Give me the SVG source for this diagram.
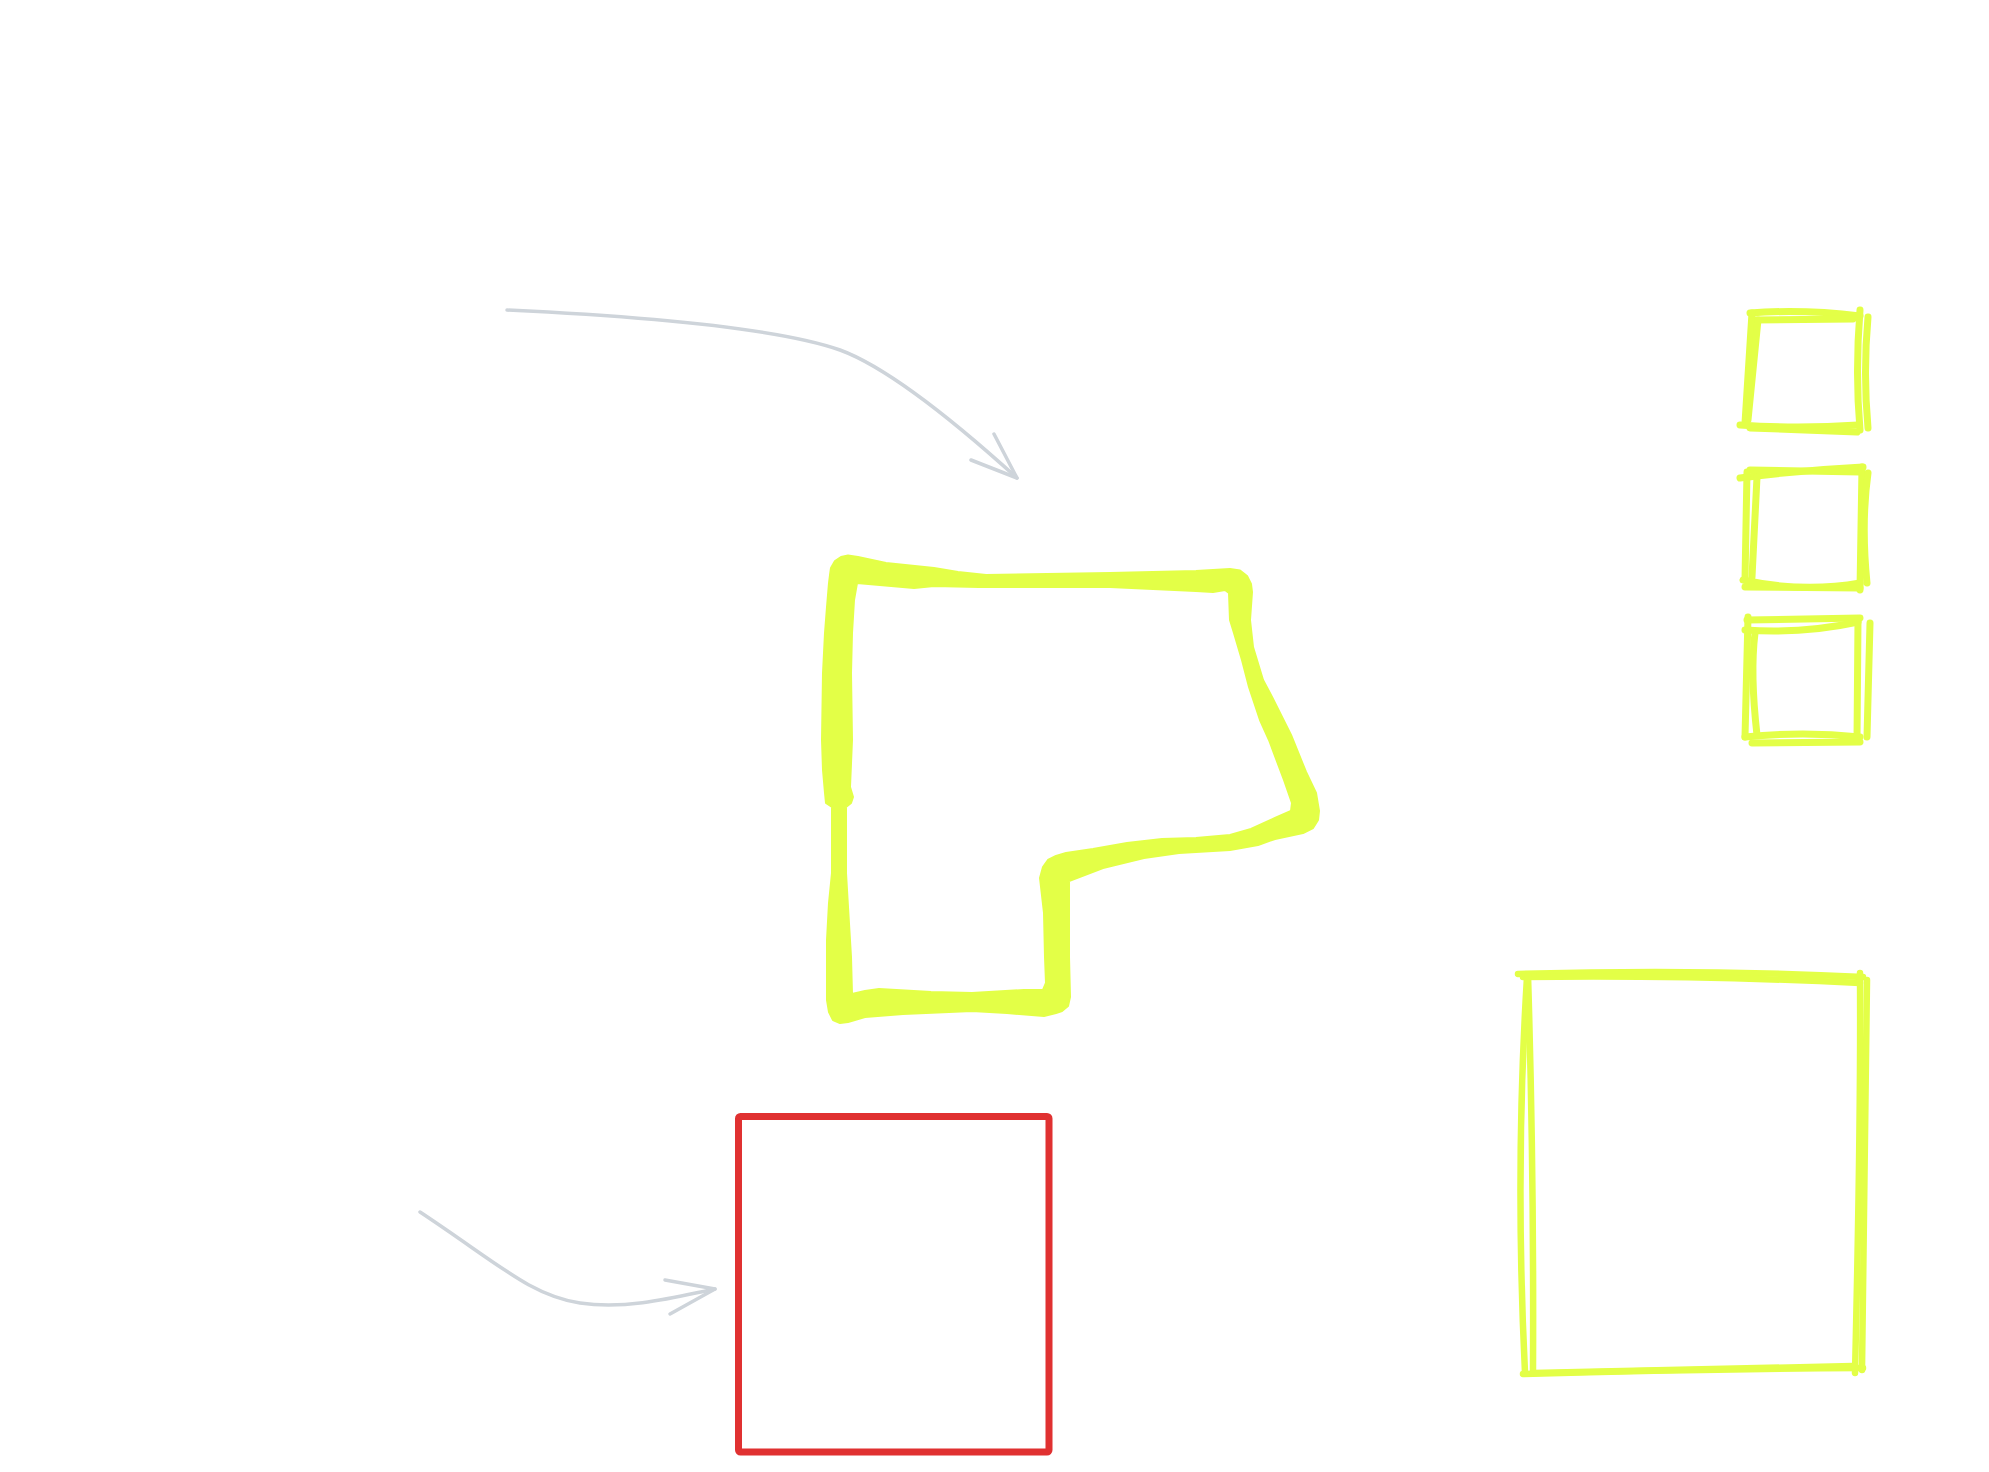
<svg xmlns="http://www.w3.org/2000/svg" width="1989" height="1472" viewBox="0 0 1989 1472">
<style>
.bg{fill:#ffffff}
.conn{fill:none;stroke:#ced4da;stroke-width:3.5;stroke-linecap:round;stroke-linejoin:round}
.ylw{fill:none;stroke:#e3ff47;stroke-width:7;stroke-linecap:round;stroke-linejoin:round}
.ylwb{fill:none;stroke:#e3ff47;stroke-width:6.5;stroke-linecap:round;stroke-linejoin:round}
.ylwfill{fill:#e3ff47;fill-rule:evenodd;stroke:#e3ff47;stroke-width:2;stroke-linejoin:round}
.red{fill:none;stroke:#e03131;stroke-width:7;stroke-linejoin:round}
</style>
<rect class="bg" x="0" y="0" width="1989" height="1472"/>
<g id="connectors">
  <g id="arrow-top">
    <path class="conn" d="M507,310 Q760,322 840,350 Q900,372 1017,478"/>
    <path class="conn" d="M994,434 L1017,478 L971,460"/>
  </g>
  <g id="arrow-bottom">
    <path class="conn" d="M420,1212 C500,1265 530,1295 580,1303 C630,1310 680,1296 715,1289"/>
    <path class="conn" d="M665,1280 L715,1289 L670,1314"/>
  </g>
</g>
<g id="node-polygon">
  <path class="ylwfill" d="M830,575 L831,568 L835,561 L841,557 L848,555.5 L858,557 L886,563 L934,568 L958,572 L986,575 L1110,573 L1196,571 L1230,569 L1240,570.5 L1247,576 L1251,584 L1252,592 L1250,620 L1253,647 L1263,680 L1272,697 L1291,735 L1306,772 L1316,793 L1319,811 L1318,820 L1313,828 L1303,833 L1275,839 L1258,845 L1230,850 L1179,853 L1144,858 L1103,868 L1069,881 L1069,907 L1069,957 L1070,997 L1068,1006 L1062,1011 L1056,1013 L1044,1016 L1007,1013 L972,1011 L903,1014 L865,1017 L848,1022 L840,1023 L833,1020 L829,1012 L827,1000 L827,940 L829,903 L832,873 L832,830 L832,807 L826,803 L825,793 L823,770 L822,740 L823,673 L825,633 L827,607 L829,583 Z M857,583 L914,588 L934,586 L979,587 L1110,587 L1196,591 L1213,592 L1225,590 L1229,593 L1230,620 L1234,633 L1242,660 L1249,687 L1260,720 L1269,740 L1284,780 L1292,803 L1291,811 L1275,818 L1251,829 L1230,835 L1196,838 L1162,839 L1127,843 L1093,849 L1066,853 L1056,856 L1048,860 L1043,867 L1040,878 L1044,913 L1045,957 L1046,983 L1043,990 L1024,990 L972,993 L931,992 L879,989 L865,991 L852,994 L851,957 L848,907 L846,873 L846,807 L851,803 L853,797 L850,787 L852,740 L851,673 L852,633 L854,600 Z"/>
</g>
<g id="node-red-rect">
  <rect class="red" x="738.5" y="1116.5" width="310.5" height="335.5" rx="2"/>
</g>
<g id="node-square-1">
  <path class="ylw" d="M1750,313 Q1803,309 1860,316"/>
  <path class="ylw" d="M1753,320 L1853,319"/>
  <path class="ylw" d="M1752,313 L1745,423"/>
  <path class="ylw" d="M1758,320 L1748,420"/>
  <path class="ylw" d="M1740,425 Q1797,429 1858,425"/>
  <path class="ylw" d="M1750,428 L1857,432"/>
  <path class="ylw" d="M1860,310 Q1855,373 1860,430"/>
  <path class="ylw" d="M1868,317 Q1863,373 1868,428"/>
</g>
<g id="node-square-2">
  <path class="ylw" d="M1740,478 Q1803,470 1863,467"/>
  <path class="ylw" d="M1750,470 L1860,472"/>
  <path class="ylw" d="M1747,472 L1745,580"/>
  <path class="ylw" d="M1757,477 L1752,577"/>
  <path class="ylw" d="M1743,580 Q1803,593 1860,583"/>
  <path class="ylw" d="M1745,587 L1860,588"/>
  <path class="ylw" d="M1862,467 L1860,590"/>
  <path class="ylw" d="M1868,473 Q1861,523 1867,583"/>
</g>
<g id="node-square-3">
  <path class="ylw" d="M1747,620 L1860,618"/>
  <path class="ylw" d="M1745,630 Q1803,634 1858,622"/>
  <path class="ylw" d="M1748,617 L1745,737"/>
  <path class="ylw" d="M1755,633 Q1750,673 1757,735"/>
  <path class="ylw" d="M1745,737 Q1803,731 1860,737"/>
  <path class="ylw" d="M1752,743 L1860,742"/>
  <path class="ylw" d="M1858,620 L1857,740"/>
  <path class="ylw" d="M1870,623 L1867,737"/>
</g>
<g id="node-big-rect">
  <path class="ylwb" d="M1518,974 Q1700,969 1863,977"/>
  <path class="ylwb" d="M1523,977 Q1700,975 1860,983"/>
  <path class="ylwb" d="M1527,977 Q1515,1170 1525,1373"/>
  <path class="ylwb" d="M1528,975 Q1534,1170 1533,1372"/>
  <path class="ylwb" d="M1523,1374 Q1700,1369 1863,1368"/>
  <path class="ylwb" d="M1533,1373 L1853,1366"/>
  <path class="ylwb" d="M1860,973 Q1861,1120 1855,1373"/>
  <path class="ylwb" d="M1867,980 Q1866,1120 1862,1370"/>
</g>
</svg>
